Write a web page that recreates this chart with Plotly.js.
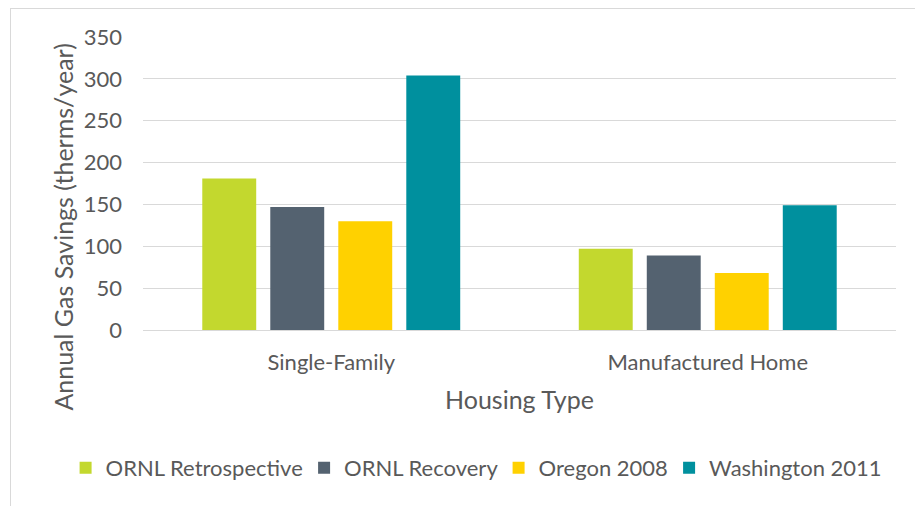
<!DOCTYPE html>
<html>
<head>
<meta charset="utf-8">
<script src="https://cdn.plot.ly/plotly-3.0.1.min.js"></script>
<style>
html,body{margin:0;padding:0;background:#fff;}
#wrap{position:relative;width:915px;height:506px;overflow:hidden;}
#chart{position:absolute;left:0;top:0;width:915px;height:506px;}
#frame{position:absolute;left:10px;top:8px;width:1000px;height:1000px;border-left:1px solid #d9d9d9;border-top:1px solid #d9d9d9;pointer-events:none;}
</style>
</head>
<body>
<div id="wrap"><div id="chart"></div><div id="frame"></div></div>
<script>
const categories = ["Single-Family", "Manufactured Home"];
const seriesNames = ["ORNL Retrospective", "ORNL Recovery", "Oregon 2008", "Washington 2011"];
const ornlRetrospective = [181, 97];
const ornlRecovery = [147, 89];
const oregon2008 = [130, 68];
const washington2011 = [304, 149];
const yTicks = [0, 50, 100, 150, 200, 250, 300, 350];
const colors = ["#c3d82e", "#546270", "#ffd100", "#00909e"];
const legendWidths = [193.5, 149.5, 125.5, 170];
const yTitle = "Annual Gas Savings (therms/year)";
const xTitle = "Housing Type";

const seriesValues = [ornlRetrospective, ornlRecovery, oregon2008, washington2011];
const font = "Lato, 'Open Sans', sans-serif";
const textColor = "#595959";

const traces = seriesValues.map((vals, i) => ({
  type: "bar",
  name: seriesNames[i],
  x: categories,
  y: vals,
  legendwidth: legendWidths[i],
  marker: {color: colors[i], line: {width: 0}},
  hoverinfo: "x+y+name"
}));

const layout = {
  width: 915,
  height: 506,
  margin: {l: 142.5, r: 18.5, t: 37, b: 176},
  paper_bgcolor: "#ffffff",
  plot_bgcolor: "#ffffff",
  font: {family: font, color: textColor, size: 22},
  barmode: "group",
  bargap: 0.2775,
  bargroupgap: 0.207,
  showlegend: true,
  legend: {
    orientation: "h",
    x: -0.1028,
    xanchor: "left",
    y: -0.471,
    yanchor: "middle",
    font: {family: font, size: 22, color: textColor},
    traceorder: "normal"
  },
  annotations: [{
    text: yTitle,
    xref: "paper", yref: "paper",
    x: -0.1068, y: 0.3515,
    xanchor: "center", yanchor: "middle",
    textangle: -90,
    showarrow: false,
    font: {family: font, size: 25, color: textColor}
  }],
  xaxis: {
    type: "category",
    showgrid: false,
    showline: false,
    zeroline: false,
    ticks: "",
    tickfont: {family: font, size: 22, color: textColor},
    ticklabelstandoff: 17,
    title: {text: xTitle, font: {family: font, size: 25, color: textColor}, standoff: 17},
    automargin: false
  },
  yaxis: {
    range: [0, 350],
    tickvals: yTicks,
    ticktext: yTicks.map(String),
    showgrid: true,
    gridcolor: "#d9d9d9",
    gridwidth: 1.3,
    zeroline: true,
    zerolinecolor: "#d9d9d9",
    zerolinewidth: 1.3,
    showline: false,
    ticks: "",
    tickfont: {family: font, size: 22, color: textColor},
    ticklabelstandoff: 20,
    automargin: false,
    fixedrange: true
  }
};

Plotly.newPlot("chart", traces, layout, {displayModeBar: false});
</script>
</body>
</html>
